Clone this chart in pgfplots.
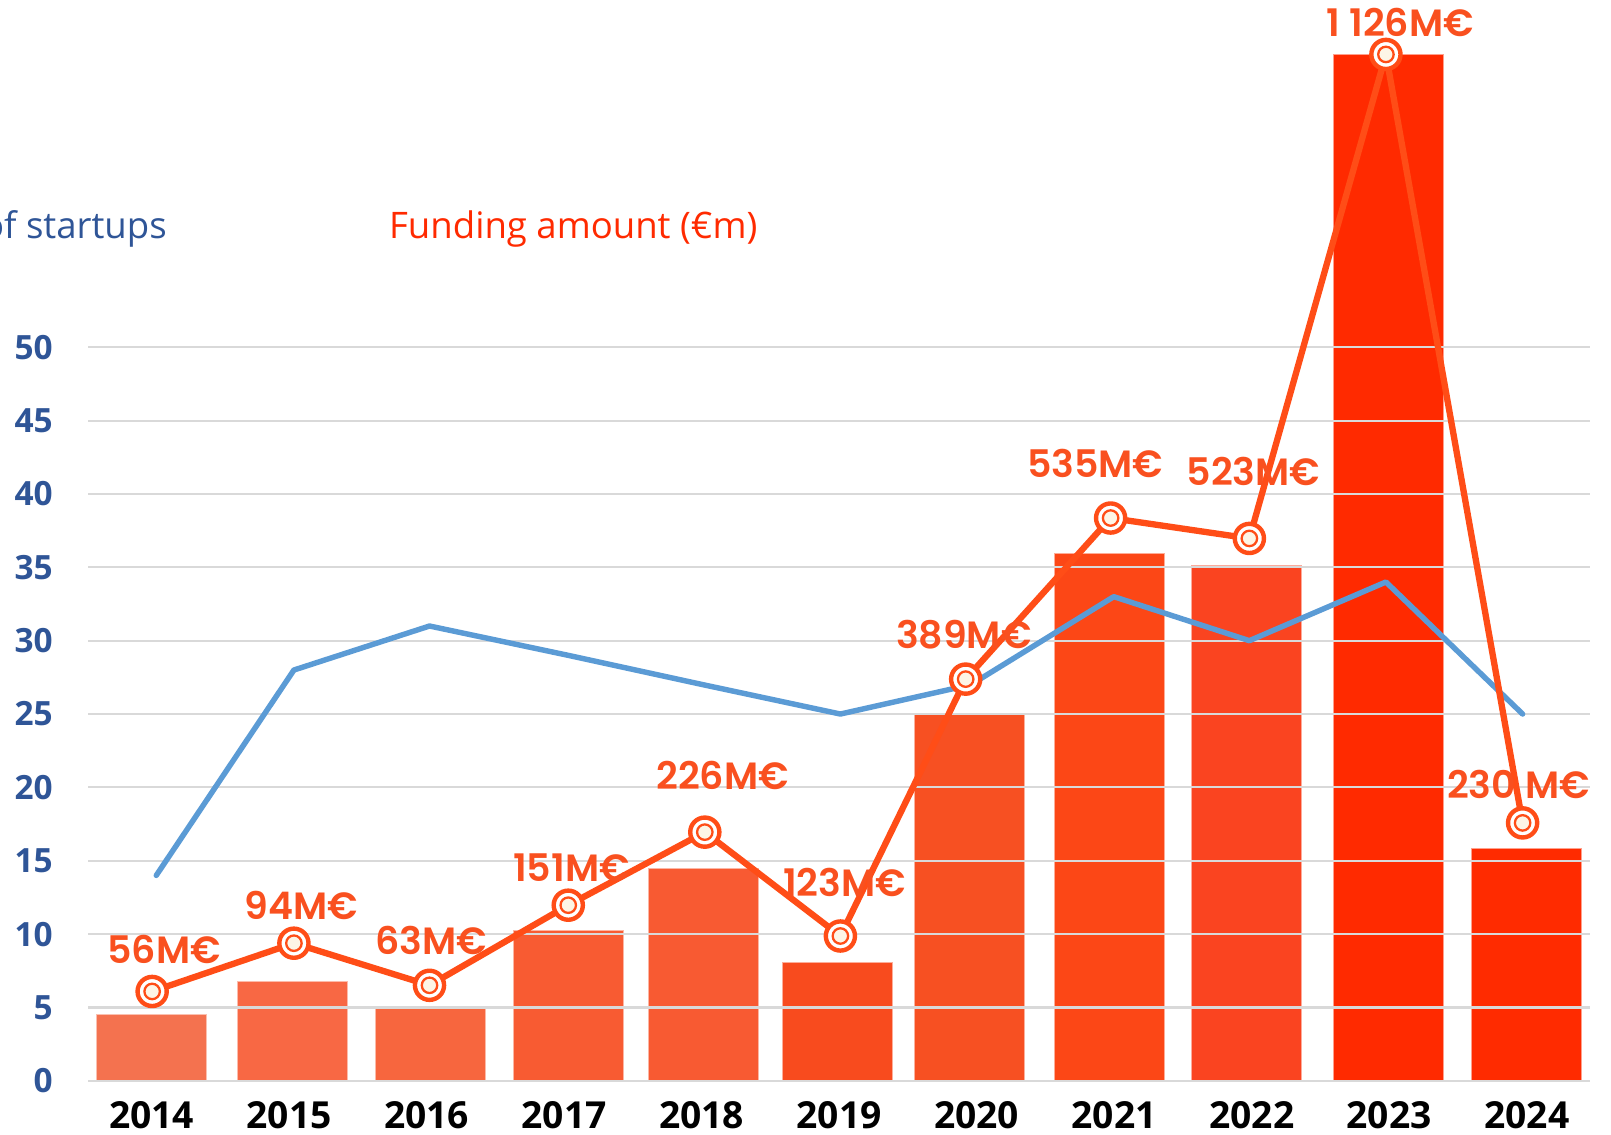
\documentclass[border=0pt]{standalone}
\usepackage{pgfplots}
\pgfplotsset{compat=1.18}
\usepackage{fontspec}
\setmainfont{Open Sans}
\newfontfamily\lblfont{Poppins SemiBold}
\definecolor{cA}{HTML}{F4724F}
\definecolor{cB}{HTML}{F86844}
\definecolor{cC}{HTML}{F7663E}
\definecolor{cD}{HTML}{F85B32}
\definecolor{cE}{HTML}{F85A32}
\definecolor{cF}{HTML}{F84B1E}
\definecolor{cG}{HTML}{F75022}
\definecolor{cH}{HTML}{FC4716}
\definecolor{cI}{HTML}{FA4420}
\definecolor{cJ}{HTML}{FF2A00}
\definecolor{cK}{HTML}{FF2B00}
\definecolor{lineor}{HTML}{FF4D17}
\definecolor{lblc}{HTML}{F9501F}
\definecolor{blueln}{HTML}{5B9BD5}
\definecolor{darkblue}{HTML}{2F5597}
\definecolor{titred}{HTML}{FF2A00}
\definecolor{gridgray}{HTML}{D9D9D9}
\definecolor{cream}{HTML}{FDF5E6}
\tikzset{lbl/.style={font=\lblfont\fontsize{10.8}{13}\selectfont, text=lblc, inner sep=0pt, anchor=center}}
\pgfplotsset{bb/.style={ybar, bar width=1.1cm, bar shift=0pt, draw=white!55!#1, line width=0.3pt, fill=#1, on layer=axis background}}
\begin{document}
\begin{tikzpicture}
\begin{axis}[
  at={(0.884cm,0.532cm)}, anchor=south west,
  scale only axis, width=15.02cm, height=10.808cm,
  xmin=-0.4595, xmax=10.463, ymin=0, ymax=73.67,
  clip=false, set layers,
  axis line style={draw=none},
  major tick length=0pt,
  ytick={0,5,...,50},
  ymajorgrids, grid style={draw=gridgray, line width=0.6pt},
  xtick={0,1,2,3,4,5,6,7,8,9,10},
  xticklabels={2014,2015,2016,2017,2018,2019,2020,2021,2022,2023,2024},
  /pgf/number format/assume math mode=true,
  xticklabel style={font=\bfseries\fontsize{10.6}{12}\selectfont, text=black, anchor=center, inner sep=0pt, yshift=-0.345cm},
  yticklabel style={font=\bfseries\fontsize{9.5}{11}\selectfont, text=darkblue, anchor=east, inner sep=0pt, xshift=-0.349cm},
]
\addplot[bb=cA] coordinates {(0,4.55)};
\addplot[bb=cB] coordinates {(1.027,6.74)};
\addplot[bb=cC] coordinates {(2.028,4.90)};
\addplot[bb=cD] coordinates {(3.030,10.22)};
\addplot[bb=cE] coordinates {(4.012,14.50)};
\addplot[bb=cF] coordinates {(4.991,8.08)};
\addplot[bb=cG] coordinates {(5.951,25.0)};
\addplot[bb=cH] coordinates {(6.963,35.94)};
\addplot[bb=cI] coordinates {(7.964,35.09)};
\addplot[bb=cJ] coordinates {(8.995,69.96)};
\addplot[bb=cK] coordinates {(10.0,15.86)};
% number of startups
\addplot[blueln, line width=1.55pt, line cap=round, line join=round, mark=none] coordinates {
(0.034,14.0) (1.035,28.0) (2.021,31.0) (3.03,29.0) (4.01,27.0) (5.009,25.0)
(5.958,27.0) (6.997,33.0) (7.983,30.0) (8.976,34.0) (9.97,25.0)};
% funding amount line
\addplot[lineor, line width=1.8pt, line join=round, mark=*, mark size=4.15pt,
  mark options={fill=white, draw=lineor, line width=1.25pt}] coordinates {
(0.004,6.09) (1.035,9.38) (2.021,6.51) (3.03,11.97) (4.023,16.95) (5.009,9.87)
(5.92,27.38) (6.974,38.36) (7.983,36.97) (8.976,69.96) (9.97,17.58)};
\addplot[only marks, mark=*, mark size=2.2pt,
  mark options={fill=cream, draw=lineor, line width=0.65pt}] coordinates {
(0.004,6.09) (1.035,9.38) (2.021,6.51) (3.03,11.97) (4.023,16.95) (5.009,9.87)
(5.92,27.38) (6.974,38.36) (7.983,36.97) (8.976,69.96) (9.97,17.58)};
\node[lbl] at (axis cs:0.090,8.98) {56M€};
\node[lbl] at (axis cs:1.086,11.98) {94M€};
\node[lbl] at (axis cs:2.031,9.60) {63M€};
\node[lbl] at (axis cs:3.052,14.50) {151M€};
\node[lbl] at (axis cs:4.152,20.81) {226M€};
\node[lbl] at (axis cs:5.039,13.52) {123M€};
\node[lbl] at (axis cs:5.906,30.39) {389M€};
\node[lbl] at (axis cs:6.861,42.07) {535M€};
\node[lbl] at (axis cs:8.012,41.52) {523M€};
\node[lbl] at (axis cs:9.079,72.14) {1 126M€};
\node[lbl] at (axis cs:9.939,20.19) {230 M€};
\end{axis}
\node[anchor=base east, inner sep=0pt, text=darkblue, font=\fontsize{10.4}{12}\selectfont] at (1.675cm,8.956cm) {Number of startups};
\node[anchor=base west, inner sep=0pt, text=titred, font=\fontsize{10.4}{12}\selectfont] at (3.884cm,8.956cm) {Funding amount (€m)};
\pgfresetboundingbox
\path[use as bounding box] (0,0) rectangle (16.11cm,11.34cm);
\end{tikzpicture}
\end{document}
